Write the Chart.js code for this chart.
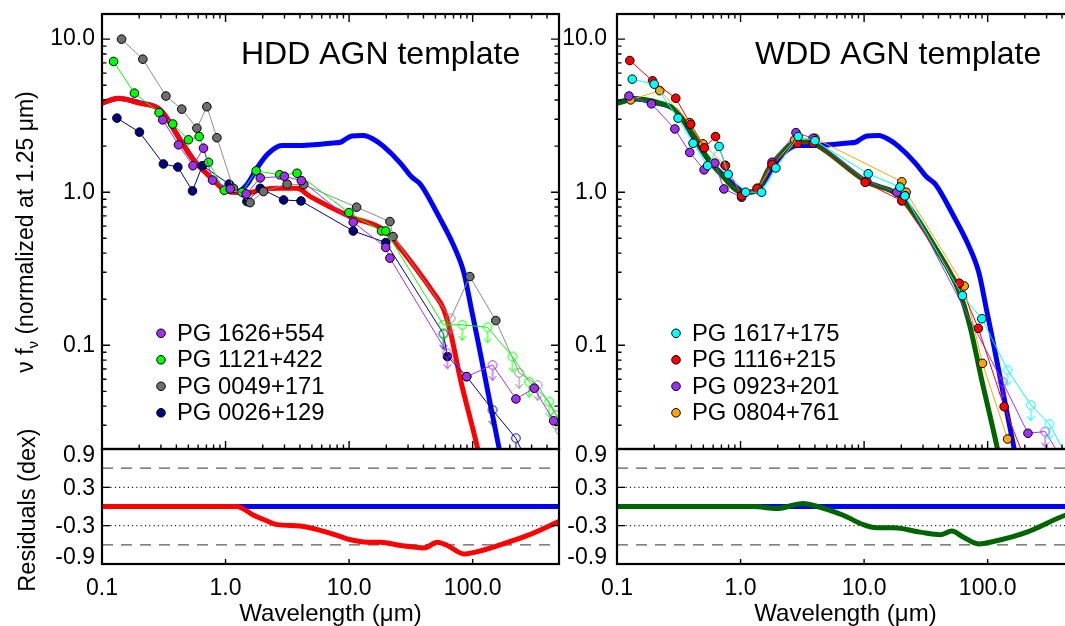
<!DOCTYPE html>
<html lang="en">
<head>
<meta charset="UTF-8">
<title>HDD / WDD AGN templates</title>
<script src="https://cdn.jsdelivr.net/npm/chart.js@4.4.1/dist/chart.umd.min.js"></script>
<style>
  html, body { margin: 0; padding: 0; background: #fff; overflow: hidden; }
  body { position: relative; width: 1065px; height: 626px; }
  .panel { position: absolute; left: 0; top: 0; width: 1085px; height: 626px; }
</style>
</head>
<body>
<div class="panel"><canvas id="sedHDD"></canvas></div>
<div class="panel"><canvas id="resHDD"></canvas></div>
<div class="panel"><canvas id="sedWDD"></canvas></div>
<div class="panel"><canvas id="resWDD"></canvas></div>
<script>
// ---- axes ----
const lamMin = 0.1, lamMax = 500;
const sedMin = 0.021, sedMax = 14.6;
const resMin = -0.9, resMax = 0.9;
const xTickVals = [0.1, 1, 10, 100];
const xTickText = ['0.1', '1.0', '10.0', '100.0'];
const sedTickVals = [0.1, 1, 10];
const sedTickText = ['0.1', '1.0', '10.0'];
const resTickVals = [0.9, 0.3, -0.3, -0.9];
const resTickText = ['0.9', '0.3', '-0.3', '-0.9'];

// ---- templates (wavelength in micron, nu f_nu normalised at 1.25 micron) ----
const blueLam = [0.1, 0.135, 0.2, 0.3, 0.43, 0.55, 0.75, 1.0, 1.22, 1.5, 1.8, 2.2, 2.86, 4.0, 5.5, 7.5, 8.5, 9.5, 10.5, 13.1, 16, 19, 26, 32, 38, 52, 70, 85, 98, 110, 132, 163, 180];
const blueVal = [3.82, 4.1, 3.85, 3.42, 2.2, 1.63, 1.26, 1.03, 1.0, 1.13, 1.44, 1.78, 2.02, 2.02, 2.05, 2.1, 2.12, 2.24, 2.33, 2.35, 2.2, 1.99, 1.55, 1.26, 1.12, 0.72, 0.45, 0.297, 0.17, 0.108, 0.051, 0.0216, 0.015];
const hddLam = [0.1, 0.135, 0.2, 0.295, 0.43, 0.55, 0.75, 1.02, 1.49, 2.0, 2.6, 3.79, 4.86, 10.3, 19.2, 22.9, 48.4, 58.6, 66.4, 80, 109, 120];
const hddVal = [3.82, 4.11, 3.82, 3.45, 2.2, 1.63, 1.26, 1.02, 0.99, 1.04, 1.06, 1.06, 0.935, 0.69, 0.567, 0.487, 0.219, 0.17, 0.12, 0.059, 0.0217, 0.015];
const wddLam = [0.1, 0.144, 0.222, 0.294, 0.413, 0.53, 0.723, 1.02, 1.35, 1.67, 2.02, 2.67, 3.43, 3.87, 10.5, 19.5, 38.7, 59.8, 72.1, 89.7, 119, 130];
const wddVal = [3.82, 4.06, 3.82, 3.45, 2.37, 1.71, 1.26, 1.0, 1.02, 1.4, 1.71, 2.09, 2.14, 2.09, 1.17, 0.935, 0.42, 0.217, 0.132, 0.059, 0.0217, 0.015];

// ---- residuals (dex) ----
const blueResLam = [0.1, 500];
const blueResVal = [0, 0];
const hddResLam = [0.1, 1.23, 1.69, 2.17, 2.61, 4.03, 5.86, 8.0, 10.3, 14, 18, 26.1, 40.4, 51.9, 62.4, 85.1, 109, 169, 278, 502];
const hddResVal = [0, 0, -0.137, -0.227, -0.284, -0.306, -0.374, -0.453, -0.521, -0.559, -0.559, -0.611, -0.648, -0.559, -0.611, -0.742, -0.706, -0.596, -0.453, -0.232];
const wddResLam = [0.1, 1.26, 1.96, 3.21, 3.87, 6.78, 9.86, 12.6, 17.3, 28.4, 41.2, 51.3, 63.7, 84.1, 111, 208, 425, 500];
const wddResVal = [0, 0, -0.032, 0.047, 0.02, -0.137, -0.284, -0.332, -0.332, -0.401, -0.442, -0.385, -0.48, -0.585, -0.548, -0.401, -0.137, -0.1];
const guideLam = [0.1, 500];
const dashLevels = [0.6, -0.6];
const dotLevels = [0.3, -0.3];

// ---- HDD sample (lim = 1 for upper limits) ----
const pg1626Lam = [0.31, 0.416, 0.545, 0.663, 0.785, 1.09, 1.47, 1.91, 2.99, 4.11, 10.8, 19.8, 21.4, 62.5, 89.5, 145, 224, 315, 452];
const pg1626Val = [2.97, 2.04, 1.49, 1.94, 1.2, 1.05, 0.975, 1.24, 1.27, 1.19, 0.637, 0.436, 0.371, 0.0887, 0.0624, 0.0743, 0.0446, 0.0524, 0.0321];
const pg1626Lim = [0, 0, 0, 0, 0, 0, 0, 0, 0, 0, 0, 0, 0, 1, 0, 1, 0, 0, 0];
const pg1121Lam = [0.124, 0.183, 0.29, 0.374, 0.501, 0.612, 0.728, 0.976, 1.36, 1.77, 2.74, 3.79, 9.97, 18.3, 19.8, 57.9, 82.6, 132, 210, 286, 417, 500];
const pg1121Val = [7.15, 4.44, 3.31, 2.79, 2.2, 2.31, 1.57, 1.03, 1.0, 1.38, 1.3, 1.33, 0.736, 0.558, 0.558, 0.136, 0.136, 0.131, 0.0844, 0.0578, 0.0428, 0.0325];
const pg1121Lim = [0, 0, 0, 0, 0, 0, 0, 0, 0, 0, 0, 0, 0, 0, 0, 1, 1, 1, 1, 1, 1, 1];
const pg0049Lam = [0.144, 0.214, 0.329, 0.442, 0.586, 0.706, 0.851, 1.16, 1.58, 2.03, 3.15, 4.3, 11.5, 21.4, 22.7, 66.4, 94.9, 154, 238, 336, 472];
const pg0049Val = [10.0, 7.4, 4.25, 3.49, 2.62, 3.62, 2.27, 1.06, 0.855, 1.01, 1.13, 1.12, 0.798, 0.643, 0.513, 0.15, 0.281, 0.145, 0.066, 0.055, 0.035];
const pg0049Lim = [0, 0, 0, 0, 0, 0, 0, 0, 0, 0, 0, 0, 0, 0, 0, 1, 0, 0, 1, 1, 1];
const pg0026Lam = [0.132, 0.201, 0.314, 0.411, 0.54, 0.65, 1.07, 1.49, 1.91, 2.95, 4.08, 10.8, 19.8, 58, 62.5, 89.5, 145, 224, 296];
const pg0026Val = [3.05, 2.47, 1.53, 1.46, 1.02, 1.49, 1.13, 0.869, 1.06, 0.89, 0.877, 0.558, 0.469, 0.119, 0.0844, 0.0624, 0.0378, 0.0247, 0.0153];
const pg0026Lim = [0, 0, 0, 0, 0, 0, 0, 0, 0, 0, 0, 0, 0, 1, 0, 0, 1, 1, 1];

// ---- WDD sample ----
const pg1617Lam = [0.133, 0.2, 0.312, 0.413, 0.541, 0.671, 0.794, 1.1, 1.48, 1.93, 2.93, 4.0, 10.8, 19.5, 21.4, 62.5, 89.7, 145, 224, 316, 450];
const pg1617Val = [5.48, 5.08, 3.05, 2.09, 1.49, 1.99, 1.31, 1.0, 1.0, 1.44, 2.31, 2.17, 1.32, 1.08, 0.946, 0.211, 0.149, 0.069, 0.0407, 0.0306, 0.018];
const pg1617Lim = [0, 0, 0, 0, 0, 0, 0, 0, 0, 0, 0, 0, 0, 0, 0, 0, 0, 1, 1, 1, 1];
const pg1116Lam = [0.127, 0.194, 0.299, 0.395, 0.51, 0.627, 0.755, 1.02, 1.36, 1.8, 2.88, 3.87, 10.2, 20.2, 59, 84.1, 136, 200];
const pg1116Val = [7.25, 5.34, 4.11, 2.78, 1.95, 2.31, 1.49, 0.946, 1.06, 1.52, 2.09, 2.09, 1.16, 0.877, 0.254, 0.129, 0.0397, 0.018];
const pg1116Lim = [0, 0, 0, 0, 0, 0, 0, 0, 0, 0, 0, 0, 0, 0, 0, 0, 0, 0];
const pg0923Lam = [0.125, 0.19, 0.294, 0.388, 0.507, 0.62, 0.733, 1.02, 1.38, 1.8, 2.81, 3.87, 10.5, 18.4, 21.5, 132, 212, 292, 400];
const pg0923Val = [4.25, 3.78, 2.59, 1.82, 1.4, 1.55, 1.05, 0.927, 1.06, 1.57, 2.45, 2.25, 1.18, 1.0, 0.95, 0.0578, 0.0266, 0.0273, 0.018];
const pg0923Lim = [0, 0, 0, 0, 0, 0, 0, 0, 0, 0, 0, 0, 0, 0, 0, 1, 0, 1, 1];
const pg0804Lam = [0.129, 0.222, 0.388, 0.497, 0.75, 1.02, 1.38, 1.8, 2.74, 4.0, 20.2, 21.9, 64.6, 90.8, 145];
const pg0804Val = [4.01, 4.61, 2.85, 2.07, 1.5, 0.96, 1.05, 1.49, 2.2, 2.25, 1.17, 1.0, 0.244, 0.0762, 0.0244];
const pg0804Lim = [0, 0, 0, 0, 0, 0, 0, 0, 0, 0, 0, 0, 0, 0, 0];

// ---- helpers ----
const FONT = '"Liberation Sans", Arial, Helvetica, sans-serif';
const W = 1085, H = 626;
const AXW = 90, AXH = 40;   // fixed axis box sizes so the plot areas line up
const tickFont = { family: FONT, size: 23 };

function pts(lam, val) { return lam.map((l, i) => ({ x: l, y: val[i] })); }

const markerCache = {};
function limitMarker(color) {
  // open circle with a down arrow, circle sits at the canvas centre
  if (markerCache[color]) return markerCache[color];
  const c = document.createElement('canvas');
  c.width = 14; c.height = 36;
  const g = c.getContext('2d');
  g.strokeStyle = color; g.lineWidth = 1;
  g.beginPath(); g.arc(7, 18, 4.3, 0, Math.PI * 2); g.stroke();
  g.beginPath(); g.moveTo(7, 22.3); g.lineTo(7, 33.5); g.stroke();
  g.beginPath(); g.moveTo(3.3, 29); g.lineTo(7, 33.5); g.lineTo(10.7, 29); g.stroke();
  markerCache[color] = c;
  return c;
}

function curve(lam, val, color, width, order) {
  return { data: pts(lam, val), showLine: true, borderColor: color, borderWidth: width,
    pointRadius: 0, cubicInterpolationMode: 'monotone', order: order, clip: 0 };
}

function guide(level, dash, color) {
  return { data: pts(guideLam, [level, level]), showLine: true, borderColor: color, borderWidth: 1.2,
    borderDash: dash, pointRadius: 0, order: 20, clip: 0 };
}

function sample(label, lam, val, lim, line, fill) {
  return { label: label, legend: true, fill: fill, data: pts(lam, val), showLine: true,
    borderColor: line, borderWidth: 1, order: 1, clip: 0,
    pointStyle: lim.map(f => f ? limitMarker(line) : 'circle'),
    pointRadius: 4.3, pointBackgroundColor: fill, pointBorderColor: '#000', pointBorderWidth: 1 };
}

function fixSize(s) {
  if (s.isHorizontal()) s.height = s.options.ticks.display ? AXH : 0;
  else s.width = AXW;
  s.paddingLeft = s.paddingRight = s.paddingTop = s.paddingBottom = 0;
}

function lamAxis(showLabels) {
  return { type: 'logarithmic', position: 'bottom', min: lamMin, max: lamMax,
    afterBuildTicks: s => { s.ticks = xTickVals.map(v => ({ value: v })); },
    ticks: { display: showLabels, callback: (v, i) => xTickText[i], font: tickFont, color: '#000',
      padding: 11, maxRotation: 0, autoSkip: false },
    grid: { display: false, drawTicks: false }, border: { display: false }, afterFit: fixSize };
}

function sedAxis(pad) {
  return { type: 'logarithmic', position: 'left', min: sedMin, max: sedMax,
    afterBuildTicks: s => { s.ticks = sedTickVals.map(v => ({ value: v })); },
    ticks: { callback: (v, i) => sedTickText[i], font: tickFont, color: '#000', padding: pad },
    grid: { display: false, drawTicks: false }, border: { display: false }, afterFit: fixSize };
}

function resAxis() {
  return { type: 'linear', position: 'left', min: resMin, max: resMax,
    ticks: { display: false }, grid: { display: false, drawTicks: false },
    border: { display: false }, afterFit: fixSize };
}

function logSteps(min, max) {
  const out = [];
  for (let e = Math.floor(Math.log10(min)); e <= Math.ceil(Math.log10(max)); e++) {
    for (let m = 1; m < 10; m++) {
      const v = m * Math.pow(10, e);
      if (v >= min * 0.9999 && v <= max * 1.0001) out.push([v, m === 1]);
    }
  }
  return out;
}

// inward tick marks + box
function framePlugin(spec) {
  return {
    id: 'frame',
    afterDatasetsDraw(chart) {
      const { ctx, chartArea: a, scales } = chart;
      ctx.save();
      ctx.strokeStyle = '#000';
      ctx.lineWidth = 1.4;
      ctx.beginPath();
      spec.xTicks.forEach(([v, major]) => {
        const len = major ? spec.xMajor : spec.xMinor;
        if (!len) return;
        const p = scales.x.getPixelForValue(v);
        spec.xSides.forEach(side => {
          const y0 = side === 'top' ? a.top : a.bottom;
          const d = side === 'top' ? len : -len;
          ctx.moveTo(p, y0); ctx.lineTo(p, y0 + d);
        });
      });
      spec.yTicks.forEach(([v, major]) => {
        const len = major ? spec.yMajor : spec.yMinor;
        if (!len) return;
        const p = scales.y.getPixelForValue(v);
        ctx.moveTo(a.left, p); ctx.lineTo(a.left + len, p);
        ctx.moveTo(a.right, p); ctx.lineTo(a.right - len, p);
      });
      ctx.stroke();
      ctx.lineWidth = 2.2;
      ctx.strokeRect(a.left, a.top, a.right - a.left, a.bottom - a.top);
      ctx.restore();
    }
  };
}

function drawRotated(ctx, parts, cx, cy) {
  ctx.save();
  ctx.translate(cx, cy);
  ctx.rotate(-Math.PI / 2);
  let total = 0;
  parts.forEach(p => { ctx.font = p.size + 'px ' + FONT; p.w = ctx.measureText(p.t).width; total += p.w; });
  let x = -total / 2;
  ctx.fillStyle = '#000';
  ctx.textBaseline = 'alphabetic';
  ctx.textAlign = 'left';
  parts.forEach(p => { ctx.font = p.size + 'px ' + FONT; ctx.fillText(p.t, x, p.dy || 0); x += p.w; });
  ctx.restore();
}

// titles, legend, residual labels
function textPlugin(spec) {
  return {
    id: 'texts',
    afterDraw(chart) {
      const { ctx, chartArea: a, scales } = chart;
      ctx.save();
      ctx.fillStyle = '#000';
      if (spec.title) {
        ctx.font = '32px ' + FONT;
        ctx.textAlign = 'left'; ctx.textBaseline = 'alphabetic';
        ctx.fillText(spec.title, spec.titleX, 64);
      }
      if (spec.legendX) {
        const items = chart.data.datasets.filter(d => d.legend);
        items.forEach((d, i) => {
          const y = 333.3 + i * 26.5;
          ctx.beginPath();
          ctx.arc(spec.legendX, y, 4.3, 0, Math.PI * 2);
          ctx.fillStyle = d.fill; ctx.fill();
          ctx.lineWidth = 1; ctx.strokeStyle = '#000'; ctx.stroke();
          ctx.fillStyle = '#000';
          ctx.font = '23.8px ' + FONT;
          ctx.textAlign = 'left'; ctx.textBaseline = 'middle';
          ctx.fillText(d.label, spec.legendX + 16, y + 1);
        });
      }
      if (spec.resLabels) {
        ctx.font = '23px ' + FONT;
        ctx.textAlign = 'right'; ctx.textBaseline = 'middle';
        resTickVals.forEach((v, i) => {
          let y = scales.y.getPixelForValue(v);
          if (v === resMax) y += 6;
          if (v === resMin) y -= 7;
          ctx.fillText(resTickText[i], a.left - spec.resPad, y + 1);
        });
      }
      if (spec.xTitle) {
        ctx.font = '24px ' + FONT;
        ctx.textAlign = 'center'; ctx.textBaseline = 'alphabetic';
        ctx.fillText('Wavelength (\u03bcm)', (a.left + a.right) / 2, 621);
      }
      if (spec.sedTitle) {
        drawRotated(ctx, [
          { t: '\u03bd f', size: 23 },
          { t: '\u03bd', size: 15, dy: 5 },
          { t: ' (normalized at 1.25 \u03bcm)', size: 23 }
        ], 33, 232);
      }
      if (spec.resTitle) {
        drawRotated(ctx, [{ t: 'Residuals (dex)', size: 23.5 }], 35, 510);
      }
      ctx.restore();
    }
  };
}

function build(id, area, xLabels, datasets, scales, plugins) {
  return new Chart(document.getElementById(id), {
    type: 'scatter',
    data: { datasets: datasets },
    options: {
      responsive: true, maintainAspectRatio: false, animation: false, events: [],
      layout: { autoPadding: false,
        padding: { left: area.l - AXW, top: area.t, right: W - area.r,
          bottom: H - area.b - (xLabels ? AXH : 0) } },
      plugins: { legend: { display: false }, tooltip: { enabled: false } },
      scales: scales
    },
    plugins: plugins
  });
}

const sedXTicks = logSteps(lamMin, lamMax);
const sedYTicks = logSteps(sedMin, sedMax);
const resXTicks = xTickVals.map(v => [v, true]);
const resYTicks = [[0.3, true], [-0.3, true]];

const sedFrame = { xTicks: sedXTicks, xMajor: 8, xMinor: 4.5, xSides: ['top', 'bottom'],
  yTicks: sedYTicks, yMajor: 8, yMinor: 4.5 };
const resFrame = { xTicks: resXTicks, xMajor: 5, xMinor: 0, xSides: ['bottom'],
  yTicks: resYTicks, yMajor: 8, yMinor: 0 };

// ---- HDD panel ----
build('sedHDD', { l: 102, r: 559, t: 14, b: 449 }, false, [
  sample('PG 1626+554', pg1626Lam, pg1626Val, pg1626Lim, '#a030f0', '#a030f0'),
  sample('PG 1121+422', pg1121Lam, pg1121Val, pg1121Lim, '#00ff00', '#00ff00'),
  sample('PG 0049+171', pg0049Lam, pg0049Val, pg0049Lim, '#8c8c8c', '#6e6e6e'),
  sample('PG 0026+129', pg0026Lam, pg0026Val, pg0026Lim, '#000080', '#000080'),
  curve(hddLam, hddVal, '#ff0000', 5, 2),
  curve(blueLam, blueVal, '#0000ff', 5, 3)
], { x: lamAxis(false), y: sedAxis(7) },
  [framePlugin(sedFrame), textPlugin({ title: 'HDD AGN template', titleX: 241, legendX: 161, sedTitle: true })]);

build('resHDD', { l: 102, r: 559, t: 449, b: 564 }, true, [
  curve(hddResLam, hddResVal, '#ff0000', 5, 2),
  curve(blueResLam, blueResVal, '#0000ff', 5, 3),
  guide(dashLevels[0], [11, 8], '#5a5a5a'),
  guide(dashLevels[1], [11, 8], '#5a5a5a'),
  guide(dotLevels[0], [1, 3.3], '#000'),
  guide(dotLevels[1], [1, 3.3], '#000')
], { x: lamAxis(true), y: resAxis() },
  [framePlugin(resFrame), textPlugin({ resLabels: true, resPad: 7, xTitle: true, resTitle: true })]);

// ---- WDD panel ----
build('sedWDD', { l: 617, r: 1074, t: 14, b: 449 }, false, [
  sample('PG 1617+175', pg1617Lam, pg1617Val, pg1617Lim, '#00ffff', '#00ffff'),
  sample('PG 1116+215', pg1116Lam, pg1116Val, pg1116Lim, '#ff0000', '#ff0000'),
  sample('PG 0923+201', pg0923Lam, pg0923Val, pg0923Lim, '#a030f0', '#a030f0'),
  sample('PG 0804+761', pg0804Lam, pg0804Val, pg0804Lim, '#ffa500', '#ffa500'),
  curve(wddLam, wddVal, '#006400', 5, 2),
  curve(blueLam, blueVal, '#0000ff', 5, 3)
], { x: lamAxis(false), y: sedAxis(10) },
  [framePlugin(sedFrame), textPlugin({ title: 'WDD AGN template', titleX: 755, legendX: 676 })]);

build('resWDD', { l: 617, r: 1074, t: 449, b: 564 }, true, [
  curve(wddResLam, wddResVal, '#006400', 5, 2),
  curve(blueResLam, blueResVal, '#0000ff', 5, 3),
  guide(dashLevels[0], [11, 8], '#5a5a5a'),
  guide(dashLevels[1], [11, 8], '#5a5a5a'),
  guide(dotLevels[0], [1, 3.3], '#000'),
  guide(dotLevels[1], [1, 3.3], '#000')
], { x: lamAxis(true), y: resAxis() },
  [framePlugin(resFrame), textPlugin({ resLabels: true, resPad: 10, xTitle: true })]);
</script>
</body>
</html>
